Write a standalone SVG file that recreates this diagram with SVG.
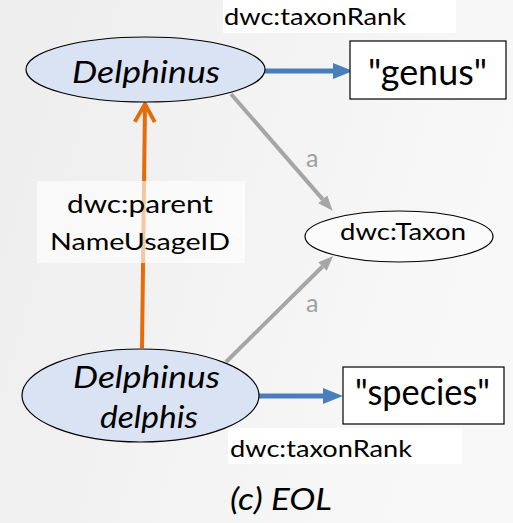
<svg xmlns="http://www.w3.org/2000/svg" width="513" height="523" viewBox="0 0 513 523">
<style>
text{font-family:Lato,"Liberation Sans",sans-serif;fill:#000}
.it{font-style:italic}
.node{stroke:#000;stroke-width:1.2}
.ind{fill:#dae3f3}
.cls{fill:#fbfbfb}
.lit{fill:#fff}
.lbl{fill:#fff}
.blue{stroke:#4a7ebb;stroke-width:5;fill:none}
.gray{stroke:#a6a6a6;stroke-width:4;fill:none}
.orange{stroke:#e46c0a;stroke-width:4;fill:none}
.glbl{fill:#a0a0a0}
</style>
<defs>
<linearGradient id="bg" x1="0" y1="0" x2="1" y2="0.3">
<stop offset="0" stop-color="#ededed"/>
<stop offset="1" stop-color="#f8f8f8"/>
</linearGradient>
<marker id="mBlue" markerUnits="userSpaceOnUse" markerWidth="22" markerHeight="18" refX="0" refY="8" orient="auto" overflow="visible">
<path d="M0,0 L20,8 L0,16 z" fill="#4a7ebb"/>
</marker>
<marker id="mGray" markerUnits="userSpaceOnUse" markerWidth="16" markerHeight="14" refX="0" refY="6" orient="auto" overflow="visible">
<path d="M0,0 L15,6 L0,12 z" fill="#a6a6a6"/>
</marker>
<marker id="mOrange" markerUnits="userSpaceOnUse" viewBox="-3 -13 24 26" markerWidth="24" markerHeight="26" refX="18" refY="0" orient="auto" overflow="visible">
<path d="M0,-10 L18,0 L0,10" fill="none" stroke="#e46c0a" stroke-width="4" stroke-linejoin="miter"/>
</marker>
</defs>
<rect x="0" y="0" width="513" height="523" fill="url(#bg)"/>

<g id="connectors">
<line class="orange" x1="142" y1="348" x2="145" y2="104" marker-end="url(#mOrange)"/>
<rect x="37" y="181" width="208" height="82" fill="#fff" fill-opacity="0.62"/>
<text x="67" y="213" font-size="25" textLength="146" lengthAdjust="spacingAndGlyphs">dwc:parent</text>
<text x="50" y="250" font-size="24" textLength="180" lengthAdjust="spacingAndGlyphs">NameUsageID</text>

<line class="blue" x1="265" y1="71" x2="333" y2="71" marker-end="url(#mBlue)"/>
<rect class="lbl" x="223" y="0" width="233" height="33"/>
<text x="224" y="25" font-size="23" textLength="182" lengthAdjust="spacingAndGlyphs">dwc:taxonRank</text>

<line class="blue" x1="259" y1="396" x2="323" y2="396" marker-end="url(#mBlue)"/>
<rect class="lbl" x="228" y="428" width="234" height="36"/>
<text x="230" y="456.5" font-size="23" textLength="182" lengthAdjust="spacingAndGlyphs">dwc:taxonRank</text>

<line class="gray" x1="231" y1="94" x2="322.8" y2="199.4" marker-end="url(#mGray)"/>
<text class="glbl" x="306" y="167" font-size="25">a</text>

<line class="gray" x1="226" y1="362" x2="322.5" y2="266.5" marker-end="url(#mGray)"/>
<text class="glbl" x="306" y="312" font-size="25">a</text>
</g>

<g id="delphinus">
<ellipse class="node ind" cx="145.5" cy="69.5" rx="119.5" ry="32.5"/>
<text class="it" x="72" y="83" font-size="31" textLength="148" lengthAdjust="spacingAndGlyphs">Delphinus</text>
</g>

<g id="genus">
<rect class="node lit" x="350" y="41" width="156" height="58"/>
<text x="368" y="85" font-size="37" textLength="119" lengthAdjust="spacingAndGlyphs">"genus"</text>
</g>

<g id="taxon">
<ellipse class="node cls" cx="399" cy="236.5" rx="94" ry="25.5"/>
<text x="340" y="240" font-size="23" textLength="126" lengthAdjust="spacingAndGlyphs">dwc:Taxon</text>
</g>

<g id="delphinus-delphis">
<ellipse class="node ind" cx="140.5" cy="395.5" rx="118.5" ry="46.5"/>
<text class="it" x="73" y="388" font-size="30" textLength="147" lengthAdjust="spacingAndGlyphs">Delphinus</text>
<text class="it" x="100" y="428" font-size="30" textLength="98" lengthAdjust="spacingAndGlyphs">delphis</text>
</g>

<g id="species">
<rect class="node lit" x="343" y="367" width="161" height="57"/>
<text x="355" y="405" font-size="37" textLength="135" lengthAdjust="spacingAndGlyphs">"species"</text>
</g>

<text class="it" x="230" y="510" font-size="30" textLength="102" lengthAdjust="spacingAndGlyphs">(c) EOL</text>
</svg>
